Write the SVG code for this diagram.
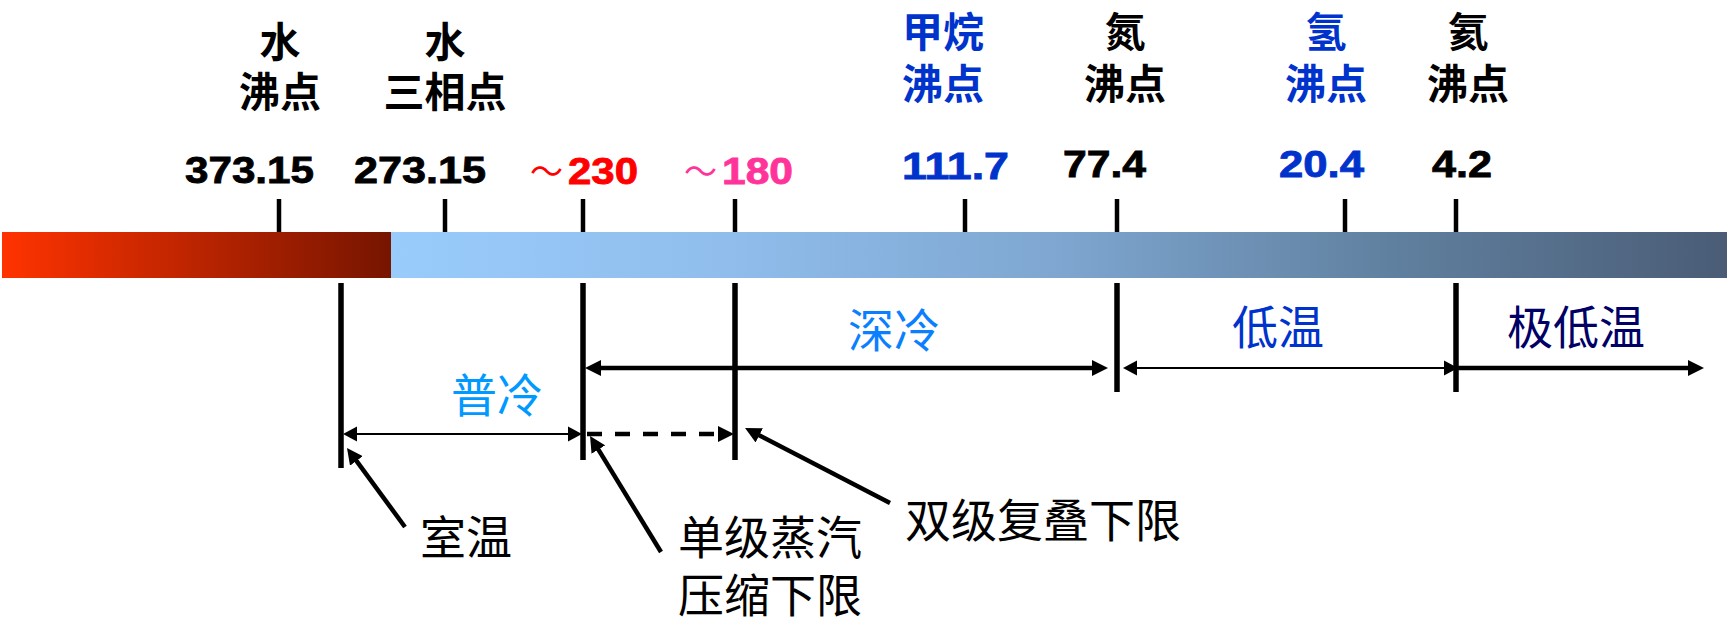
<svg xmlns="http://www.w3.org/2000/svg" width="1729" height="627" viewBox="0 0 1729 627">
<style>
.hd{font-family:"Noto Sans CJK SC","Noto Sans",sans-serif;font-weight:700;font-size:41px;text-anchor:middle}
.num{font-family:"Liberation Sans",Arial,sans-serif;font-weight:700;font-size:36px;stroke:currentColor;stroke-width:0.8}
.tl{font-family:"Noto Sans CJK SC",sans-serif;font-weight:400;font-size:34px}
.lb{font-family:"Noto Sans CJK SC","Noto Sans",sans-serif;font-weight:400;font-size:46px;text-anchor:middle}
.tick{stroke:#000;stroke-width:4.5}
.vl{stroke:#000;stroke-width:5.5}
.thk{stroke:#000;stroke-width:4.5;fill:none}
.thn{stroke:#000;stroke-width:2;fill:none}
</style>
<defs>
<linearGradient id="gr" x1="0" y1="0" x2="1" y2="0">
<stop offset="0" stop-color="#ff3300"/>
<stop offset="1" stop-color="#761500"/>
</linearGradient>
<linearGradient id="gb" x1="0" y1="0" x2="1" y2="0">
<stop offset="0" stop-color="#99ccfb"/>
<stop offset="0.25" stop-color="#90bdec"/>
<stop offset="0.5" stop-color="#7ea6d0"/>
<stop offset="0.75" stop-color="#60809f"/>
<stop offset="1" stop-color="#4a5c76"/>
</linearGradient>
<marker id="ah" viewBox="0 0 16 16" markerUnits="userSpaceOnUse" markerWidth="16" markerHeight="16" refX="4" refY="8" orient="auto-start-reverse">
<path d="M0,0 L16,8 L0,16 z" fill="#000"/>
</marker>
<marker id="ahs" viewBox="0 0 16 16" markerUnits="userSpaceOnUse" markerWidth="16" markerHeight="16" refX="3" refY="8" orient="auto-start-reverse">
<path d="M0,0.5 L14,8 L0,15.5 z" fill="#000"/>
</marker>
</defs>
<rect width="1729" height="627" fill="#fff"/>

<g id="bar">
<rect x="2" y="232" width="389" height="46" fill="url(#gr)"/>
<rect x="391" y="232" width="1336" height="46" fill="url(#gb)"/>
</g>

<g id="n-water-boil" color="#000">
<text class="hd" x="280" y="57">水</text>
<text class="hd" x="280" y="107">沸点</text>
<text class="num" x="185" y="183" textLength="129" lengthAdjust="spacingAndGlyphs">373.15</text>
</g>
<g id="n-water-triple" color="#000">
<text class="hd" x="445" y="57">水</text>
<text class="hd" x="445" y="107">三相点</text>
<text class="num" x="354" y="183" textLength="132" lengthAdjust="spacingAndGlyphs">273.15</text>
</g>
<g id="n-230" color="#ff0000" fill="#ff0000">
<text class="tl" x="530" y="184" textLength="33" lengthAdjust="spacingAndGlyphs">～</text>
<text class="num" x="568" y="184" textLength="70" lengthAdjust="spacingAndGlyphs">230</text>
</g>
<g id="n-180" color="#ff3399" fill="#ff3399">
<text class="tl" x="684" y="184" textLength="33" lengthAdjust="spacingAndGlyphs">～</text>
<text class="num" x="722" y="184" textLength="71" lengthAdjust="spacingAndGlyphs">180</text>
</g>
<g id="n-methane" color="#0033cc" fill="#0033cc">
<text class="hd" x="943" y="47">甲烷</text>
<text class="hd" x="943" y="99">沸点</text>
<text class="num" x="902" y="179" textLength="107" lengthAdjust="spacingAndGlyphs">111.7</text>
</g>
<g id="n-nitrogen" color="#000">
<text class="hd" x="1125" y="47">氮</text>
<text class="hd" x="1125" y="99">沸点</text>
<text class="num" x="1063" y="177" textLength="83" lengthAdjust="spacingAndGlyphs">77.4</text>
</g>
<g id="n-hydrogen" color="#0033cc" fill="#0033cc">
<text class="hd" x="1326" y="47">氢</text>
<text class="hd" x="1326" y="99">沸点</text>
<text class="num" x="1279" y="177" textLength="85" lengthAdjust="spacingAndGlyphs">20.4</text>
</g>
<g id="n-helium" color="#000">
<text class="hd" x="1468" y="47">氦</text>
<text class="hd" x="1468" y="99">沸点</text>
<text class="num" x="1432" y="177" textLength="60" lengthAdjust="spacingAndGlyphs">4.2</text>
</g>

<g id="ticks">
<line class="tick" x1="279" y1="199" x2="279" y2="232"/>
<line class="tick" x1="445" y1="199" x2="445" y2="232"/>
<line class="tick" x1="583" y1="199" x2="583" y2="232"/>
<line class="tick" x1="735" y1="199" x2="735" y2="232"/>
<line class="tick" x1="965" y1="199" x2="965" y2="232"/>
<line class="tick" x1="1117" y1="199" x2="1117" y2="232"/>
<line class="tick" x1="1345" y1="199" x2="1345" y2="232"/>
<line class="tick" x1="1456" y1="199" x2="1456" y2="232"/>
</g>

<g id="n-ranges">
<text class="lb" x="497" y="412" fill="#0099ff">普冷</text>
<text class="lb" x="894" y="347" fill="#0a80ff">深冷</text>
<text class="lb" x="1278" y="344" fill="#0033cc">低温</text>
<text class="lb" x="1576" y="344" fill="#000066">极低温</text>
</g>
<g id="n-room">
<text class="lb" x="466" y="554">室温</text>
</g>
<g id="n-single">
<text class="lb" x="770" y="554">单级蒸汽</text>
<text class="lb" x="770" y="612">压缩下限</text>
</g>
<g id="n-cascade">
<text class="lb" x="1043" y="537">双级复叠下限</text>
</g>

<g id="connectors">
<line class="vl" x1="341" y1="283" x2="341" y2="468"/>
<line class="vl" x1="583" y1="283" x2="583" y2="460"/>
<line class="vl" x1="735" y1="283" x2="735" y2="460"/>
<line class="vl" x1="1117" y1="283" x2="1117" y2="392"/>
<line class="vl" x1="1456" y1="283" x2="1456" y2="392"/>
<line class="thn" x1="354" y1="434" x2="571" y2="434" marker-start="url(#ahs)" marker-end="url(#ahs)"/>
<line class="thk" x1="587" y1="434" x2="722" y2="434" stroke-dasharray="15 13" marker-end="url(#ah)"/>
<line class="thk" x1="597" y1="368" x2="1096" y2="368" marker-start="url(#ah)" marker-end="url(#ah)"/>
<line class="thn" x1="1134" y1="368" x2="1447" y2="368" stroke-width="2.5" marker-start="url(#ahs)" marker-end="url(#ahs)"/>
<line class="thk" x1="1458" y1="368" x2="1692" y2="368" marker-end="url(#ah)"/>
<line class="thk" x1="405" y1="527" x2="354.1" y2="457.7" marker-end="url(#ah)"/>
<line class="thk" x1="661" y1="552" x2="596.3" y2="446.2" marker-end="url(#ah)"/>
<line class="thk" x1="890" y1="503" x2="755.7" y2="433.5" marker-end="url(#ah)"/>
</g>
</svg>
